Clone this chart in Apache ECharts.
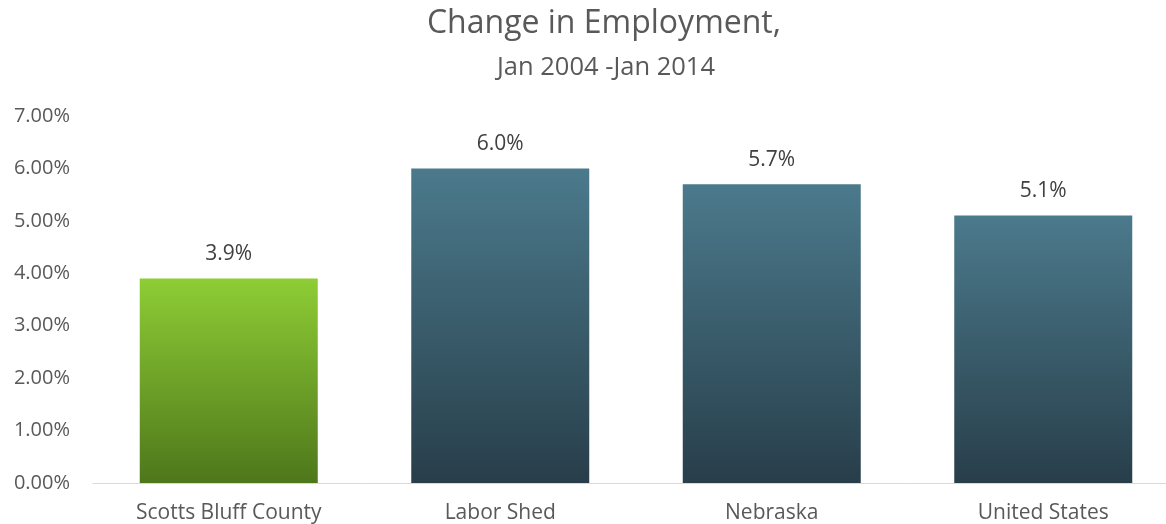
<!DOCTYPE html>
<html>
<head>
<meta charset="utf-8">
<script src="https://cdn.jsdelivr.net/npm/echarts@6/dist/echarts.min.js"></script>
<style>
  html, body { margin: 0; padding: 0; background: #ffffff; overflow: hidden; }
  /* the plot runs a little past the right edge of the page */
  #chart { width: 1179px; height: 524px; }
</style>
</head>
<body>
<div id="chart"></div>
<script>
// Percentage change in employment, Jan 2004 - Jan 2014
const categories = ['Scotts Bluff County', 'Labor Shed', 'Nebraska', 'United States'];
const changePct = [3.9, 6.0, 5.7, 5.1];
const yTicks = { min: 0, max: 7, interval: 1 };

const FONT = '"Open Sans", "Noto Sans", sans-serif';

const greenFill = new echarts.graphic.LinearGradient(0, 0, 0, 1, [
  { offset: 0, color: '#8ecd35' },
  { offset: 1, color: '#4e771b' }
]);
const slateFill = new echarts.graphic.LinearGradient(0, 0, 0, 1, [
  { offset: 0, color: '#4b7a8c' },
  { offset: 1, color: '#283e4a' }
]);

const chart = echarts.init(document.getElementById('chart'), null, { renderer: 'canvas' });

chart.setOption({
  animation: false,
  backgroundColor: '#ffffff',
  title: [
    {
      text: 'Change in Employment,',
      left: 599, top: 3, textAlign: 'center',
      textStyle: { fontFamily: FONT, fontSize: 32, fontWeight: 'normal', color: '#595959' }
    },
    {
      text: 'Jan 2004 -Jan 2014',
      left: 601, top: 50, textAlign: 'center',
      textStyle: { fontFamily: FONT, fontSize: 25.5, fontWeight: 'normal', color: '#595959' }
    }
  ],
  grid: { left: 93, top: 116, right: 0, bottom: 40, containLabel: false },
  xAxis: {
    type: 'category',
    data: categories,
    axisLine: { show: true, lineStyle: { color: '#d9d9d9', width: 1 } },
    axisTick: { show: false },
    axisLabel: { fontFamily: FONT, fontSize: 21, color: '#595959', margin: 20 }
  },
  yAxis: {
    type: 'value',
    min: yTicks.min, max: yTicks.max, interval: yTicks.interval,
    splitLine: { show: false },
    axisLine: { show: false },
    axisTick: { show: false },
    axisLabel: {
      fontFamily: FONT, fontSize: 20, color: '#595959', margin: 23,
      formatter: v => v.toFixed(2) + '%'
    }
  },
  series: [{
    type: 'bar',
    data: changePct.map((v, i) => ({
      value: v,
      itemStyle: { color: i === 0 ? greenFill : slateFill }
    })),
    barWidth: 178,
    label: {
      show: true, position: 'top', distance: 14,
      fontFamily: FONT, fontSize: 21, color: '#404040',
      formatter: p => p.value.toFixed(1) + '%'
    }
  }]
});
</script>
</body>
</html>
